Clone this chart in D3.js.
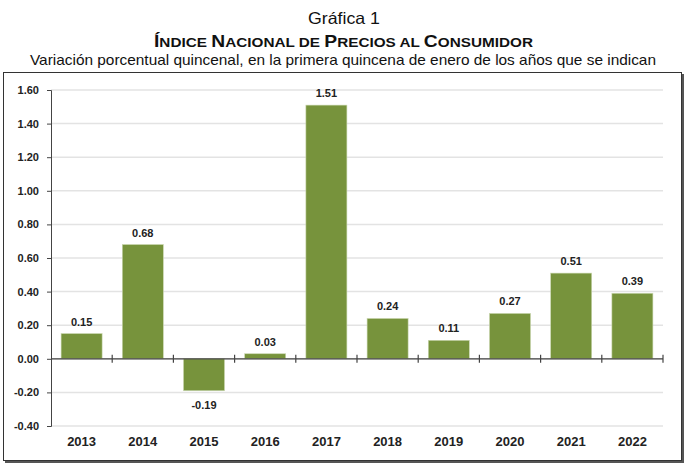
<!DOCTYPE html>
<html>
<head>
<meta charset="utf-8">
<script src="https://cdn.jsdelivr.net/npm/d3@7"></script>
<style>
  body { margin: 0; background: #fff; }
  svg { font-family: "Liberation Sans", Arial, sans-serif; }
</style>
</head>
<body>
<svg id="chart" width="690" height="476"></svg>
<script>
const years = ["2013", "2014", "2015", "2016", "2017", "2018", "2019", "2020", "2021", "2022"];
const values = [0.15, 0.68, -0.19, 0.03, 1.51, 0.24, 0.11, 0.27, 0.51, 0.39];
const yTicks = [-0.40, -0.20, 0.00, 0.20, 0.40, 0.60, 0.80, 1.00, 1.20, 1.40, 1.60];

const barColor = "#77933c";
const margin = { left: 51, right: 27, top: 90, bottom: 50 };
const fmt = d => d3.format(".2f")(d).replace("\u2212", "-");

const svg = d3.select("#chart");

// titles
svg.append("text")
  .attr("x", 344).attr("y", 24)
  .attr("text-anchor", "middle")
  .attr("font-size", 16.5)
  .attr("fill", "#111")
  .attr("textLength", 72)
  .attr("lengthAdjust", "spacingAndGlyphs")
  .text("Gráfica 1");

const title = svg.append("text")
  .attr("x", 343.5).attr("y", 47)
  .attr("text-anchor", "middle")
  .attr("font-weight", "bold")
  .attr("fill", "#111")
  .attr("textLength", 379)
  .attr("lengthAdjust", "spacingAndGlyphs");

// small caps done by hand
[["Í", 17], ["NDICE ", 13.5], ["N", 17], ["ACIONAL DE ", 13.5], ["P", 17], ["RECIOS AL ", 13.5], ["C", 17], ["ONSUMIDOR", 13.5]]
  .forEach(([t, s]) => title.append("tspan").attr("font-size", s).text(t));

svg.append("text")
  .attr("x", 343).attr("y", 65)
  .attr("text-anchor", "middle")
  .attr("font-size", 15)
  .attr("fill", "#111")
  .attr("textLength", 626)
  .attr("lengthAdjust", "spacingAndGlyphs")
  .text("Variación porcentual quincenal, en la primera quincena de enero de los años que se indican");

// frame with shadow
svg.append("rect")
  .attr("x", 5).attr("y", 74)
  .attr("width", 679).attr("height", 389)
  .attr("fill", "#555");
svg.append("rect")
  .attr("x", 3.5).attr("y", 72.5)
  .attr("width", 678).attr("height", 388)
  .attr("fill", "#fff")
  .attr("stroke", "#333")
  .attr("stroke-width", 1);

// scales
const x = d3.scaleBand()
  .domain(years)
  .range([margin.left, 663])
  .paddingInner(0.33)
  .paddingOuter(0.165);

const y = d3.scaleLinear()
  .domain([-0.40, 1.60])
  .range([426, 90]);

// gridlines
svg.append("g")
  .selectAll("line")
  .data(yTicks)
  .join("line")
  .attr("x1", margin.left)
  .attr("x2", 663)
  .attr("y1", d => y(d))
  .attr("y2", d => y(d))
  .attr("stroke", "#e3e3e3")
  .attr("stroke-width", 1.5);

// y axis
const yAxis = svg.append("g")
  .attr("transform", `translate(${margin.left},0)`)
  .call(d3.axisLeft(y).tickValues(yTicks).tickFormat(fmt).tickSize(4).tickPadding(8));
yAxis.select(".domain").attr("stroke", "#444");
yAxis.selectAll(".tick line").attr("stroke", "#444");
yAxis.selectAll("text")
  .attr("font-size", 11)
  .attr("font-weight", "bold")
  .attr("fill", "#222")
  .attr("font-family", "Liberation Sans, Arial, sans-serif");

// bars
svg.append("g")
  .selectAll("rect")
  .data(values)
  .join("rect")
  .attr("x", (d, i) => x(years[i]))
  .attr("width", x.bandwidth())
  .attr("y", d => y(Math.max(0, d)))
  .attr("height", d => Math.abs(y(d) - y(0)))
  .attr("fill", barColor)
  .attr("stroke", "#c9d6ae")
  .attr("stroke-width", 0.6);

// zero line with band-boundary ticks
const step = x.step();
const boundaries = d3.range(1, years.length + 1).map(i => margin.left + step * i);
svg.append("line")
  .attr("x1", margin.left).attr("x2", 663)
  .attr("y1", y(0)).attr("y2", y(0))
  .attr("stroke", "#444").attr("stroke-width", 1.2);
svg.append("g")
  .selectAll("line")
  .data(boundaries)
  .join("line")
  .attr("x1", d => d).attr("x2", d => d)
  .attr("y1", y(0) - 4).attr("y2", y(0) + 4)
  .attr("stroke", "#444").attr("stroke-width", 1.2);

// value labels
svg.append("g")
  .selectAll("text")
  .data(values)
  .join("text")
  .attr("x", (d, i) => x(years[i]) + x.bandwidth() / 2)
  .attr("y", d => d >= 0 ? y(d) - 8 : y(d) + 18)
  .attr("text-anchor", "middle")
  .attr("font-size", 11)
  .attr("font-weight", "bold")
  .attr("fill", "#222")
  .text(fmt);

// year labels
svg.append("g")
  .selectAll("text")
  .data(years)
  .join("text")
  .attr("x", d => x(d) + x.bandwidth() / 2)
  .attr("y", 446)
  .attr("text-anchor", "middle")
  .attr("font-size", 13)
  .attr("font-weight", "bold")
  .attr("fill", "#222")
  .text(d => d);
</script>
</body>
</html>
